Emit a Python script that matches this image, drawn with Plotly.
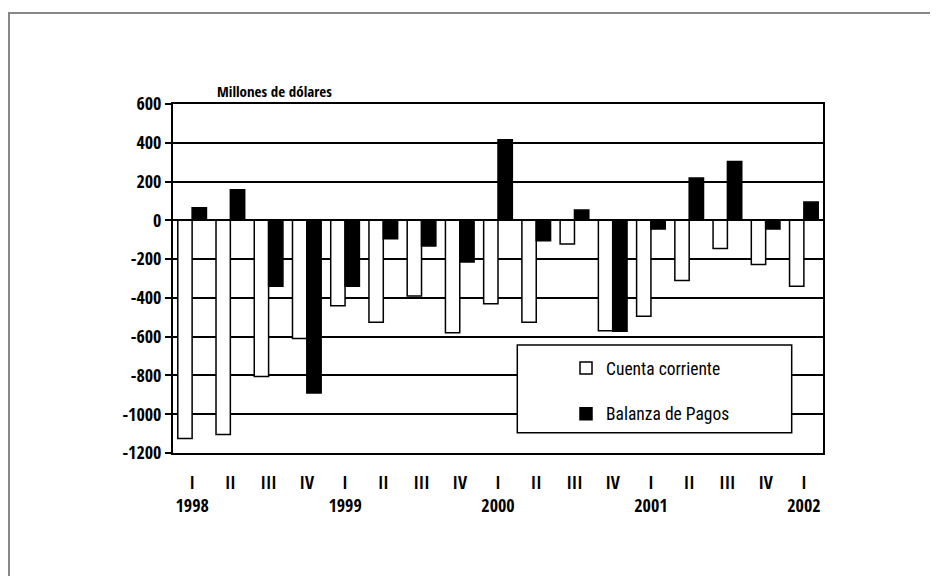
import plotly.graph_objects as go

# ---- data ----
periods = ["1998 I", "1998 II", "1998 III", "1998 IV",
           "1999 I", "1999 II", "1999 III", "1999 IV",
           "2000 I", "2000 II", "2000 III", "2000 IV",
           "2001 I", "2001 II", "2001 III", "2001 IV",
           "2002 I"]
quarter_labels = ["I", "II", "III", "IV", "I", "II", "III", "IV",
                  "I", "II", "III", "IV", "I", "II", "III", "IV", "I"]
year_labels = ["1998", "", "", "", "1999", "", "", "", "2000", "", "", "",
               "2001", "", "", "", "2002"]
cuenta_corriente = [-1125, -1105, -805, -610, -440, -525, -390, -580,
                    -430, -525, -122, -570, -495, -310, -145, -228, -340]
balanza_pagos = [65, 158, -340, -890, -340, -95, -132, -215,
                 415, -105, 53, -572, -45, 218, 303, -45, 94]
y_ticks = [600, 400, 200, 0, -200, -400, -600, -800, -1000, -1200]
y_tick_text = ["600", "400", "200", "0", "-200", "-400", "-600", "-800", "-1000", "-1200"]

BOLD_NARROW = "Open Sans Condensed, Roboto Condensed, Archivo Narrow, sans-serif"
REG_NARROW = "Roboto Condensed, Archivo Narrow, Liberation Sans Narrow, sans-serif"

ticktext = [q + ("<br>" + y if y else "") for q, y in zip(quarter_labels, year_labels)]

fig = go.Figure()
fig.add_trace(go.Bar(
    x=periods, y=cuenta_corriente, name="Cuenta corriente",
    marker=dict(color="white", line=dict(color="black", width=1.5)),
    legendgroup="a"))
fig.add_trace(go.Bar(
    x=periods, y=balanza_pagos, name="Balanza de Pagos",
    marker=dict(color="black", line=dict(color="black", width=1.5)),
    legendgroup="b"))

OFF = 8  # page body margin offset
L, R, T, B = 165, 123, 96, 131
W, H = 938, 576
pw, ph = W - L - R, H - T - B

def px_x(x):  # x in screen pixels
    return (x - OFF - L) / pw

def px_y(y):  # y in screen pixels
    return (H - B - (y - OFF)) / ph

fig.update_layout(
    width=W, height=H,
    margin=dict(l=L, r=R, t=T, b=B),
    paper_bgcolor="white", plot_bgcolor="white",
    barmode="group", bargap=0.25, bargroupgap=0,
    showlegend=True,
    legend=dict(
        x=px_x(566), y=px_y(350), xanchor="left", yanchor="top",
        bgcolor="rgba(0,0,0,0)", borderwidth=0,
        traceorder="grouped", tracegroupgap=20,
        font=dict(family=REG_NARROW, size=17.5, color="black")),
    font=dict(family=BOLD_NARROW, color="black"),
    xaxis=dict(
        tickmode="array", tickvals=periods, ticktext=ticktext,
        tickfont=dict(family=BOLD_NARROW, size=18, color="black", weight="bold"),
        showgrid=False, showline=True, linecolor="black", linewidth=2,
        mirror=True, ticks="", ticklabelstandoff=12),
    yaxis=dict(
        range=[-1200, 600], tickmode="array", tickvals=y_ticks, ticktext=y_tick_text,
        tickfont=dict(family=BOLD_NARROW, size=18, color="black", weight="bold"),
        showgrid=True, gridcolor="black", gridwidth=1.5,
        zeroline=True, zerolinecolor="black", zerolinewidth=1.5,
        showline=True, linecolor="black", linewidth=2, mirror=True,
        ticks="outside", ticklen=6, tickcolor="black", tickwidth=2),
    annotations=[dict(
        text="Millones de dólares", xref="paper", yref="paper",
        x=px_x(215), y=px_y(90.7), xanchor="left", yanchor="middle",
        showarrow=False,
        font=dict(family=BOLD_NARROW, size=15, color="black", weight="bold"))],
    shapes=[
        dict(type="rect", xref="paper", yref="paper",
             x0=px_x(9), x1=px_x(960), y0=px_y(13), y1=px_y(620),
             line=dict(color="#888888", width=2), fillcolor="rgba(0,0,0,0)",
             layer="above"),
        dict(type="rect", xref="paper", yref="paper",
             x0=px_x(517.3), x1=px_x(791.7), y0=px_y(432.7), y1=px_y(345),
             line=dict(color="black", width=1.5), fillcolor="white",
             layer="above"),
    ],
)

fig.write_html("out.html")
